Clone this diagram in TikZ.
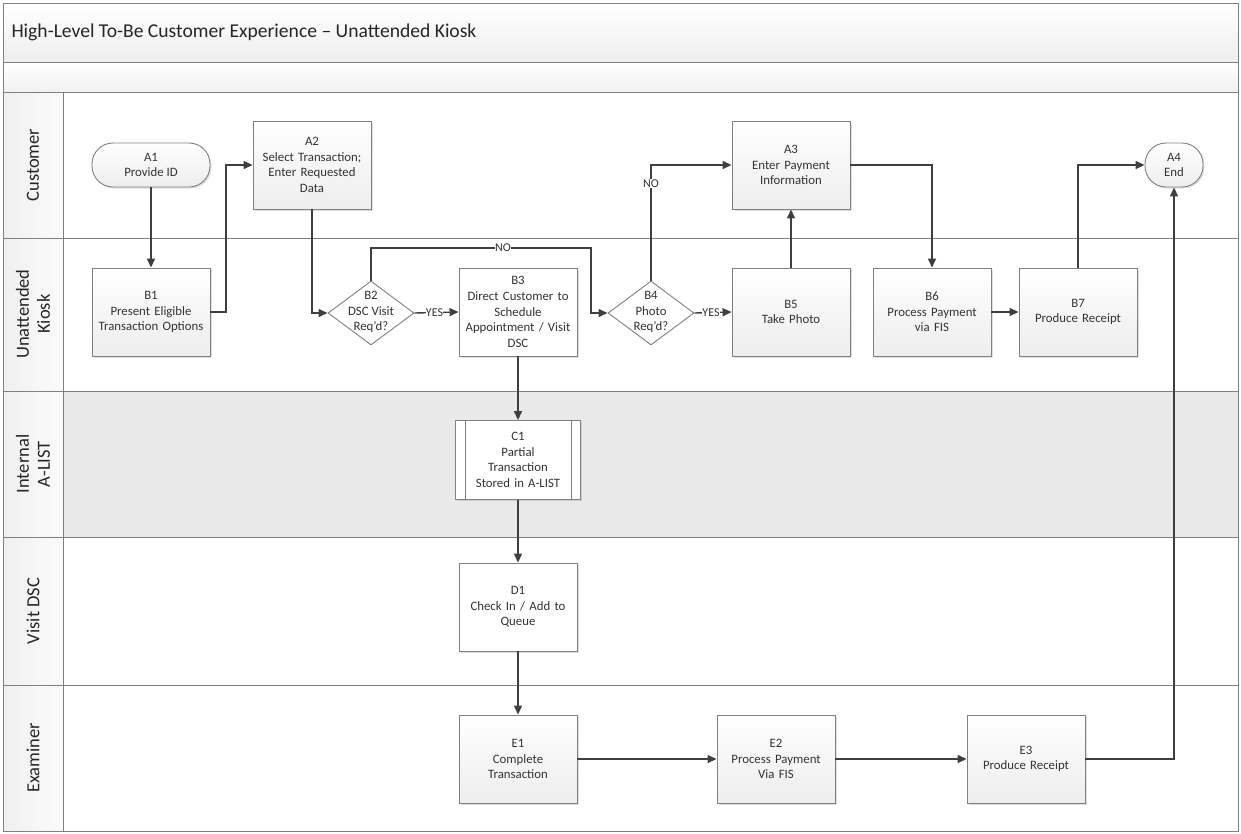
\documentclass[tikz,border=0pt]{standalone}
\usepackage{fontspec}
\setmainfont{Carlito}
\usetikzlibrary{arrows.meta,shapes.geometric,shadows,calc}
\definecolor{ln}{HTML}{3F3F3F}
\definecolor{bd}{HTML}{808080}
\definecolor{lanefill}{HTML}{E9E9E9}
\begin{document}
\begin{tikzpicture}[x=1pt,y=-1pt,
  shad/.style={drop shadow={shadow xshift=1.5pt,shadow yshift=-1.5pt,opacity=0.25}},
  txt/.style={font=\fontsize{12.8}{15.6}\selectfont, align=center, text=black!80},
  proc/.style={txt, draw=bd, line width=0.9pt, minimum width=118pt, minimum height=88pt,
    inner sep=1pt, text width=116pt, top color=white, bottom color=gray!14, shad},
  procw/.style={proc, top color=white, bottom color=white},
  term/.style={txt, draw=bd, line width=0.9pt, rounded corners=21pt, minimum height=44pt,
    inner sep=1pt, top color=white, bottom color=gray!14, shad},
  dec/.style={diamond, draw=bd, line width=0.9pt, fill=white, inner sep=0pt,
    minimum width=86pt, minimum height=64pt},
  arr/.style={draw=ln, line width=1.4pt, -{Triangle[length=9pt,width=8pt]}},
  lbl/.style={font=\fontsize{12}{13}\selectfont, fill=white, inner sep=0.3pt, text=black!80},
  lane/.style={font=\fontsize{18.5}{21}\selectfont, rotate=90, align=center, text=black!85},
  sep/.style={draw=bd, line width=1pt}
]
\useasboundingbox (0,0) rectangle (1241,833);
% background bands
\fill[top color=white, bottom color=gray!13] (3,3) rectangle (1238,62);
\fill[top color=white, bottom color=gray!11] (3,62) rectangle (1238,92);
\fill[lanefill] (63,391) rectangle (1238,537);
\foreach \a/\b in {92/238,238/391,391/537,537/685,685/831}{
  \fill[left color=gray!12, right color=gray!3] (3,\a) rectangle (63,\b);
}
\draw[sep] (3,62) -- (1238,62);
\draw[sep] (3,92) -- (1238,92);
\foreach \yy in {238,391,537,685}{ \draw[sep] (3,\yy) -- (1238,\yy); }
\draw[sep] (63,92) -- (63,831);
\draw[sep] (3,3) rectangle (1238,831);

% title and lane labels
\node[anchor=west, font=\fontsize{19.6}{22}\selectfont, text=black!85] (title) at (8,32) {High-Level To-Be Customer Experience -- Unattended Kiosk};
\node[lane] (Lcust) at (33,165) {Customer};
\node[lane] (Lkiosk) at (33,314) {Unattended\\Kiosk};
\node[lane] (Lalist) at (33,464) {Internal\\A-LIST};
\node[lane] (Ldsc) at (33,611) {Visit DSC};
\node[lane] (Lexam) at (33,758) {Examiner};

% nodes
\node[term, minimum width=118pt] (A1) at (151,165) {A1\\Provide ID};
\node[proc] (A2) at (312,165) {A2\\Select Transaction;\\Enter Requested\\Data};
\node[proc] (A3) at (791,165) {A3\\Enter Payment\\Information};
\node[term, minimum width=58pt] (A4) at (1174,165) {A4\\End};

\node[proc] (B1) at (151,312) {B1\\Present Eligible\\Transaction Options};
\node[dec] (B2) at (371,313) {};
\node[txt] (B2t) at (371,312) {B2\\DSC Visit\\Req’d?};
\node[procw] (B3) at (518,312) {B3\\Direct Customer to\\Schedule\\Appointment / Visit\\DSC};
\node[dec] (B4) at (651,313) {};
\node[txt] (B4t) at (651,312) {B4\\Photo\\Req’d?};
\node[proc] (B5) at (791,312) {B5\\Take Photo};
\node[proc] (B6) at (932,312) {B6\\Process Payment\\via FIS};
\node[proc] (B7) at (1078,312) {B7\\Produce Receipt};

\node[procw, minimum width=125pt, minimum height=79pt, text width=104pt] (C1) at (518,460) {C1\\Partial\\Transaction\\Stored in A-LIST};
\draw[draw=bd, line width=0.9pt] ($(C1.north west)+(10,0)$) -- ($(C1.south west)+(10,0)$);
\draw[draw=bd, line width=0.9pt] ($(C1.north east)+(-10,0)$) -- ($(C1.south east)+(-10,0)$);

\node[procw] (D1) at (518,607) {D1\\Check In / Add to\\Queue};
\node[proc] (E1) at (518,759) {E1\\Complete\\Transaction};
\node[proc] (E2) at (776,759) {E2\\Process Payment\\Via FIS};
\node[proc] (E3) at (1026,759) {E3\\Produce Receipt};

% connectors
\coordinate (k1) at (226,312);
\coordinate (n1) at (591,248);
\draw[arr] (A1) -- (B1);
\draw[arr] (B1.east) -- (k1) |- (A2.west);
\draw[arr] (A2.south) |- (B2.west);
\draw[arr] (B2.east) -- node[lbl, xshift=-2pt]{YES} (B3.west);
\draw[arr] (B2.north) |- node[lbl, pos=0.8]{NO} (n1) |- (B4.west);
\draw[arr] (B4.east) -- node[lbl, xshift=-2pt]{YES} (B5.west);
\draw[arr] (B4.north) |- node[lbl, pos=0.42]{NO} (A3.west);
\draw[arr] (B5) -- (A3);
\draw[arr] (A3.east) -| (B6.north);
\draw[arr] (B6) -- (B7);
\draw[arr] (B7.north) |- (A4.west);
\draw[arr] (B3) -- (C1);
\draw[arr] (C1) -- (D1);
\draw[arr] (D1) -- (E1);
\draw[arr] (E1) -- (E2);
\draw[arr] (E2) -- (E3);
\draw[arr] (E3.east) -| (A4.south);
\end{tikzpicture}
\end{document}
